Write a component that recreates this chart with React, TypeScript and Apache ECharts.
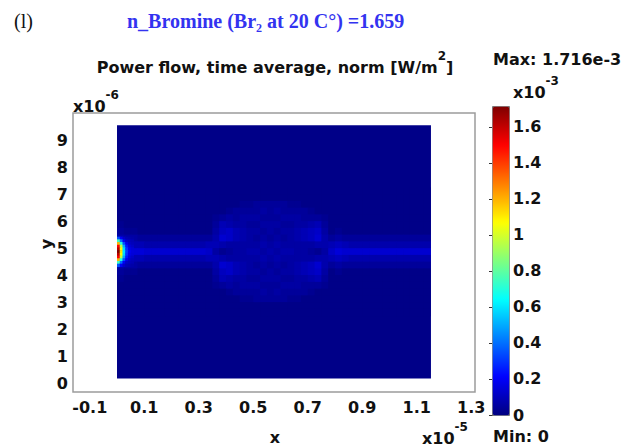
import React, { useEffect, useRef } from 'react';
import * as echarts from 'echarts';

// ---------- axes / ticks ----------
const X_TICKS = [-0.1, 0.1, 0.3, 0.5, 0.7, 0.9, 1.1, 1.3]; // ×1e-5 m
const Y_TICKS = [0, 1, 2, 3, 4, 5, 6, 7, 8, 9]; // ×1e-6 m
const CBAR_TICKS = [0, 0.2, 0.4, 0.6, 0.8, 1, 1.2, 1.4, 1.6]; // ×1e-3 W/m²
const X_RANGE = [-0.1615, 1.3138];
const Y_RANGE = [-0.333, 10.0];
const VALUE_MIN = 0;
const VALUE_MAX = 1.716;

// ---------- texts ----------
const PANEL_LABEL = '(l)';
const HEADLINE = 'n_Bromine (Br₂ at 20 C°) =1.659';
const PLOT_TITLE = 'Power flow, time average, norm [W/m';
const MAX_TEXT = 'Max: 1.716e-3';
const MIN_TEXT = 'Min: 0';

// ---------- simulation domain ----------
const DOMAIN_X = [0, 1.15]; // ×1e-5 m
const DOMAIN_Y = [0.19, 9.55]; // ×1e-6 m
const BACKGROUND_VALUE = 0.015; // ×1e-3 W/m²

// ---------- field around the waveguide (levels, base-36 digits) ----------
const FIELD_X0 = 0; // ×1e-5 m, left edge of first column
const FIELD_DX = 0.025; // ×1e-5 m
const FIELD_Y_TOP = 7.12; // ×1e-6 m, centre of first row
const FIELD_DY = 0.25; // ×1e-6 m
const LEVEL_STEP = 0.015; // ×1e-3 W/m² per level
const FIELD_ROWS = [
  '1111111111111' + '1111111111111111111' + '11111111111111',
  '1111111111111' + '1111111111111111111' + '11111111111111',
  '1111111111111' + '1111122333332211111' + '11111111111111',
  '1111111111111' + '1112333343433332111' + '11111111111111',
  '1111111111111' + '1234344433344433321' + '11111111111111',
  '2111111111111' + '1365443344433445631' + '11111111111111',
  '3221111111111' + '1478654434344567841' + '21111111111111',
  '5443333333333' + '3598654343434567953' + '43333333333333',
  '8766555555555' + '6654444454544444556' + '76555555555555',
  'bbaa999999999' + '8423445545455443248' + 'a9999999999999',
  '8766555555555' + '6654444454544444556' + '76555555555555',
  '5443333333333' + '3598654343434567953' + '43333333333333',
  '3221111111111' + '1478654434344567841' + '21111111111111',
  '2111111111111' + '1365443344433445631' + '11111111111111',
  '1111111111111' + '1234344433344433321' + '11111111111111',
  '1111111111111' + '1112333343433332111' + '11111111111111',
  '1111111111111' + '1111122333332211111' + '11111111111111',
  '1111111111111' + '1111111111111111111' + '11111111111111',
  '1111111111111' + '1111111111111111111' + '11111111111111',
];

// ---------- source spot at the input port (×1e-3 W/m²) ----------
const SPOT_X0 = 0;
const SPOT_DX = 0.01;
const SPOT_Y_TOP = 5.37;
const SPOT_DY = 0.1;
const SPOT_ROWS = [
  [0.35, 0.2, 0.12, 0.09, 0.08, 0.07],
  [0.75, 0.4, 0.2, 0.12, 0.1, 0.09],
  [1.2, 0.7, 0.35, 0.18, 0.12, 0.1],
  [1.5, 0.95, 0.5, 0.25, 0.15, 0.12],
  [1.62, 1.08, 0.58, 0.3, 0.18, 0.15],
  [1.716, 1.12, 0.6, 0.32, 0.2, 0.16],
  [1.62, 1.08, 0.58, 0.3, 0.18, 0.15],
  [1.5, 0.95, 0.5, 0.25, 0.15, 0.12],
  [1.2, 0.7, 0.35, 0.18, 0.12, 0.1],
  [0.75, 0.4, 0.2, 0.12, 0.1, 0.09],
  [0.35, 0.2, 0.12, 0.09, 0.08, 0.07],
];

const JET = ['#00007F', '#0000FF', '#007FFF', '#00FFFF', '#7FFF7F', '#FFFF00', '#FF7F00', '#FF0000', '#7F0000'];
const FONT = 'DejaVu Sans';
const SERIF = 'Liberation Serif';

function buildField() {
  const out: number[][] = [];
  FIELD_ROWS.forEach((row, r) => {
    for (let c = 0; c < row.length; c++) {
      out.push([
        FIELD_X0 + (c + 0.5) * FIELD_DX,
        FIELD_Y_TOP - r * FIELD_DY,
        FIELD_DX,
        FIELD_DY,
        parseInt(row[c], 36) * LEVEL_STEP,
      ]);
    }
  });
  return out;
}

function buildSpot() {
  const out: number[][] = [];
  SPOT_ROWS.forEach((row, r) => {
    row.forEach((v, c) => {
      out.push([SPOT_X0 + (c + 0.5) * SPOT_DX, SPOT_Y_TOP - r * SPOT_DY, SPOT_DX, SPOT_DY, v]);
    });
  });
  return out;
}

const renderCell = (params: any, api: any) => {
  const cx = api.value(0);
  const cy = api.value(1);
  const w = api.value(2);
  const h = api.value(3);
  const p0 = api.coord([cx - w / 2, cy + h / 2]);
  const p1 = api.coord([cx + w / 2, cy - h / 2]);
  return {
    type: 'rect',
    shape: { x: p0[0], y: p0[1], width: p1[0] - p0[0] + 0.6, height: p1[1] - p0[1] + 0.6 },
    style: { fill: api.visual('color'), stroke: null },
  };
};

const labelFont = { fontFamily: FONT, fontWeight: 'bold' as const, fontSize: 16, color: '#111' };

const supRich = {
  a: { fontFamily: FONT, fontWeight: 'bold', fontSize: 16, fill: '#111', lineHeight: 25, verticalAlign: 'bottom' },
  s: { fontFamily: FONT, fontWeight: 'bold', fontSize: 12, fill: '#111', lineHeight: 12, verticalAlign: 'top' },
};

// y is the centre of the base text; the rich block is shifted so the base lands there
function supText(x: number, y: number, base: string, sup: string, tail = '', align = 'left') {
  return {
    type: 'text',
    x,
    y: y - 3.5,
    silent: true,
    style: {
      text: `{a|${base}}{s|${sup}}` + (tail ? `{a|${tail}}` : ''),
      rich: supRich,
      align,
      verticalAlign: 'middle',
      textAlign: align,
      textVerticalAlign: 'middle',
    },
  };
}

function plainText(x: number, y: number, text: string, font: string, fill = '#111', align = 'left', rotation = 0) {
  return {
    type: 'text',
    x,
    y,
    rotation,
    silent: true,
    style: {
      text,
      font,
      fill,
      align,
      verticalAlign: 'middle',
      textAlign: align,
      textVerticalAlign: 'middle',
    },
  };
}

export default function App() {
  const ref = useRef<HTMLDivElement>(null);
  useEffect(() => {
    if (!ref.current) return;
    const chart = echarts.init(ref.current, null, { renderer: 'svg' });
    const background = [[
      (DOMAIN_X[0] + DOMAIN_X[1]) / 2,
      (DOMAIN_Y[0] + DOMAIN_Y[1]) / 2,
      DOMAIN_X[1] - DOMAIN_X[0],
      DOMAIN_Y[1] - DOMAIN_Y[0],
      BACKGROUND_VALUE,
    ]];
    const option: any = {
      animation: false,
      grid: [
        { left: 73, top: 113, width: 402, height: 279, show: true, borderColor: '#9c9c9c', borderWidth: 1.5, backgroundColor: 'transparent' },
        { left: 492, top: 106, width: 17, height: 309, show: false },
      ],
      xAxis: [
        {
          type: 'value',
          gridIndex: 0,
          min: X_RANGE[0],
          max: X_RANGE[1],
          axisLine: { show: false },
          axisTick: { show: false },
          splitLine: { show: false },
          axisLabel: {
            ...labelFont,
            margin: 7,
            customValues: X_TICKS,
            formatter: (v: number) => v.toFixed(1),
          },
        },
        { type: 'value', gridIndex: 1, show: false, min: 0, max: 1 },
      ],
      yAxis: [
        {
          type: 'value',
          gridIndex: 0,
          min: Y_RANGE[0],
          max: Y_RANGE[1],
          axisLine: { show: false },
          axisTick: { show: false },
          splitLine: { show: false },
          axisLabel: { ...labelFont, margin: 5, customValues: Y_TICKS, formatter: (v: number) => String(v) },
        },
        {
          type: 'value',
          gridIndex: 1,
          position: 'right',
          min: VALUE_MIN,
          max: VALUE_MAX,
          axisLine: { show: false },
          splitLine: { show: false },
          axisTick: { show: true, inside: true, length: 3, customValues: CBAR_TICKS, lineStyle: { color: '#333', width: 1 } },
          axisLabel: { ...labelFont, margin: 4, customValues: CBAR_TICKS, formatter: (v: number) => String(v) },
        },
        {
          type: 'value',
          gridIndex: 1,
          position: 'left',
          min: VALUE_MIN,
          max: VALUE_MAX,
          axisLine: { show: false },
          splitLine: { show: false },
          axisTick: { show: true, inside: true, length: 3, customValues: CBAR_TICKS, lineStyle: { color: '#333', width: 1 } },
          axisLabel: { show: false },
        },
      ],
      visualMap: {
        type: 'continuous',
        min: VALUE_MIN,
        max: VALUE_MAX,
        dimension: 4,
        seriesIndex: [0, 1, 2],
        calculable: false,
        hoverLink: false,
        orient: 'vertical',
        left: 492,
        top: 106,
        itemWidth: 17,
        itemHeight: 309,
        padding: 0,
        borderColor: '#777',
        borderWidth: 1,
        inRange: { color: JET },
      },
      series: [
        { type: 'custom', xAxisIndex: 0, yAxisIndex: 0, renderItem: renderCell, data: background, silent: true, clip: true, z: 1 },
        { type: 'custom', xAxisIndex: 0, yAxisIndex: 0, renderItem: renderCell, data: buildField(), silent: true, clip: true, z: 2 },
        { type: 'custom', xAxisIndex: 0, yAxisIndex: 0, renderItem: renderCell, data: buildSpot(), silent: true, clip: true, z: 3 },
      ],
      graphic: [
        plainText(14, 21, PANEL_LABEL, `20px "${SERIF}"`, '#111'),
        plainText(127, 21, HEADLINE, `bold 20px "${SERIF}"`, '#3333F0'),
        supText(275, 66, PLOT_TITLE, '2', ']', 'center'),
        plainText(493, 59, MAX_TEXT, `bold 16px "${FONT}"`),
        plainText(493, 436, MIN_TEXT, `bold 16px "${FONT}"`),
        supText(73, 105, 'x10', '-6'),
        supText(513, 91, 'x10', '-3'),
        supText(422, 437, 'x10', '-5'),
        plainText(275, 437, 'x', `bold 16px "${FONT}"`, '#111', 'center'),
        plainText(46, 244, 'y', `bold 16px "${FONT}"`, '#111', 'center', Math.PI / 2),
      ],
    };
    chart.setOption(option);
    return () => chart.dispose();
  }, []);
  return <div ref={ref} style={{ position: 'fixed', left: 0, top: 0, width: 629, height: 446, background: '#fff' }} />;
}
